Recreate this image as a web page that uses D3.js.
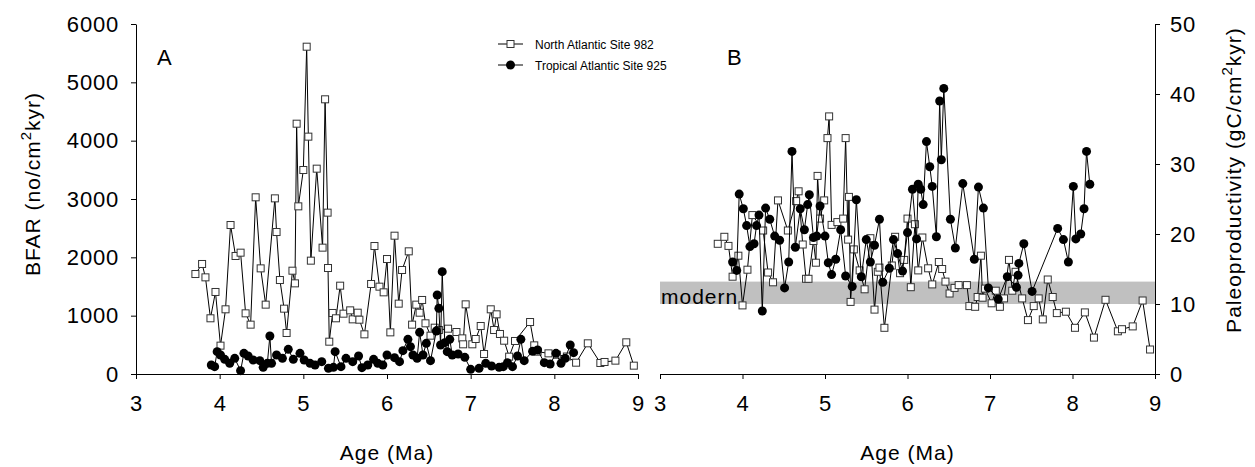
<!DOCTYPE html>
<html>
<head>
<meta charset="utf-8">
<script src="https://cdn.jsdelivr.net/npm/d3@7"></script>
<style>
	body { margin: 0; background: #fff; }
	svg { display: block; font-family: 'Liberation Sans', Arial, sans-serif; }
</style>
</head>
<body>
<script>
// tick values
const ageTicks = [3, 4, 5, 6, 7, 8, 9]
const bfarTicks = [0, 1000, 2000, 3000, 4000, 5000, 6000]
const prodTicks = [0, 10, 20, 30, 40, 50]
const modernBand = [10, 13.2]

// panel A : BFAR, North Atlantic Site 982 (squares)
const ageA982 = [3.71, 3.79, 3.83, 3.89, 3.95, 4.01, 4.07, 4.13, 4.19, 4.25, 4.31, 4.37, 4.43, 4.49, 4.55, 4.66, 4.68, 4.72, 4.77, 4.80,
	4.87, 4.90, 4.92, 4.94, 5.00, 5.04, 5.06, 5.09, 5.16, 5.23, 5.26, 5.29, 5.295, 5.31, 5.35, 5.39, 5.44, 5.48, 5.56, 5.59,
	5.65, 5.67, 5.73, 5.81, 5.85, 5.91, 5.96, 6.00, 6.04, 6.09, 6.14, 6.18, 6.26, 6.30, 6.35, 6.39, 6.42, 6.46, 6.52, 6.57,
	6.62, 6.73, 6.83, 6.90, 6.91, 6.94, 7.02, 7.06, 7.12, 7.16, 7.24, 7.28, 7.31, 7.35, 7.40, 7.46, 7.53, 7.71, 7.76, 7.80,
	7.93, 8.03, 8.15, 8.26, 8.40, 8.55, 8.60, 8.73, 8.86, 8.95]
const bfarA982 = [1714, 1886, 1657, 955, 1406, 486, 1109, 2554, 2023, 2080, 1040, 846, 3029, 1811, 1189, 3011, 2434, 1611, 1120, 703,
	1771, 1554, 4291, 2874, 3497, 5611, 4069, 1943, 3520, 2166, 4709, 2766, 1817, 554, 1046, 955, 1514, 1034, 1091, 937,
	1051, 931, 680, 1543, 2194, 1497, 1400, 1971, 714, 2371, 1206, 1783, 2103, 846, 1189, 1051, 1269, 869, 657, 794,
	754, 777, 720, 611, 509, 1194, 509, 600, 823, 343, 1109, 754, 1023, 686, 571, 297, 566, 891, 491, 383,
	354, 330, 300, 194, 526, 189, 206, 229, 543, 143]

// panel A : BFAR, Tropical Atlantic Site 925 (circles)
const ageA925 = [3.90, 3.94, 3.97, 4.01, 4.06, 4.12, 4.18, 4.25, 4.29, 4.34, 4.40, 4.48, 4.52, 4.57, 4.60, 4.62, 4.68, 4.75, 4.82, 4.88,
	4.96, 5.01, 5.08, 5.14, 5.22, 5.30, 5.36, 5.38, 5.45, 5.51, 5.59, 5.66, 5.70, 5.77, 5.84, 5.89, 5.95, 6.00, 6.09, 6.15,
	6.19, 6.25, 6.28, 6.31, 6.36, 6.39, 6.43, 6.47, 6.52, 6.59, 6.60, 6.62, 6.64, 6.66, 6.69, 6.72, 6.75, 6.78, 6.85, 6.93,
	7.00, 7.10, 7.18, 7.25, 7.34, 7.39, 7.44, 7.50, 7.56, 7.60, 7.64, 7.74, 7.80, 7.88, 7.95, 8.02, 8.08, 8.13, 8.19, 8.23]
const bfarA925 = [154, 126, 383, 326, 251, 183, 269, 57, 354, 309, 240, 229, 114, 183, 651, 183, 326, 269, 423, 251,
	354, 240, 183, 154, 211, 97, 114, 383, 126, 269, 211, 309, 109, 154, 251, 183, 154, 326, 280, 211,
	400, 594, 469, 326, 269, 714, 326, 526, 229, 737, 1354, 1126, 497, 1754, 537, 383, 594, 326, 343, 286,
	80, 97, 183, 137, 114, 126, 194, 126, 309, 594, 229, 389, 411, 194, 171, 354, 183, 269, 497, 366]

// panel B : paleoproductivity, Site 982 (squares)
const ageB982 = [3.70, 3.78, 3.83, 3.88, 3.95, 4.00, 4.06, 4.12, 4.25, 4.31, 4.37, 4.43, 4.55, 4.65, 4.68, 4.73, 4.77, 4.80, 4.86, 4.89,
	4.91, 4.94, 4.99, 5.03, 5.05, 5.08, 5.15, 5.22, 5.25, 5.28, 5.29, 5.31, 5.35, 5.42, 5.48, 5.55, 5.60, 5.64, 5.66, 5.72,
	5.81, 5.85, 5.91, 5.96, 6.00, 6.04, 6.09, 6.13, 6.18, 6.25, 6.30, 6.38, 6.42, 6.46, 6.51, 6.57, 6.62, 6.72, 6.75, 6.82,
	6.85, 6.89, 6.91, 6.94, 7.02, 7.07, 7.12, 7.17, 7.23, 7.27, 7.31, 7.39, 7.46, 7.53, 7.59, 7.64, 7.70, 7.76, 7.81, 7.92,
	8.03, 8.15, 8.26, 8.40, 8.55, 8.60, 8.73, 8.85, 8.94]
const prodB982 = [18.6, 19.6, 18.3, 13.9, 16.9, 9.8, 14.9, 22.7, 20.5, 14.5, 13.1, 24.8, 20.5, 24.7, 26.1, 18.5, 13.6, 13.6, 19.0, 15.9,
	28.3, 22.2, 24.8, 33.7, 36.8, 21.3, 21.7, 22.2, 33.7, 19.2, 25.3, 10.3, 17.8, 14.8, 12.1, 19.4, 9.2, 14.6, 15.2, 6.6,
	15.5, 19.6, 14.4, 16.3, 22.2, 12.4, 21.4, 14.8, 19.5, 15.1, 12.8, 16.0, 15.0, 13.2, 11.5, 12.3, 12.7, 12.7, 9.7, 9.6,
	11.0, 16.9, 10.9, 12.2, 10.1, 11.9, 9.6, 10.8, 16.3, 11.9, 14.6, 10.8, 7.7, 9.7, 10.8, 7.8, 13.5, 11.0, 8.7, 8.9,
	6.6, 8.8, 5.2, 10.6, 6.1, 6.4, 6.8, 10.5, 3.5]

// panel B : paleoproductivity, Site 925 (circles)
const ageB925 = [3.88, 3.93, 3.96, 4.01, 4.05, 4.09, 4.14, 4.17, 4.20, 4.24, 4.28, 4.33, 4.39, 4.45, 4.51, 4.56, 4.60, 4.64, 4.70, 4.75,
	4.79, 4.81, 4.86, 4.90, 4.94, 5.00, 5.04, 5.08, 5.13, 5.19, 5.25, 5.33, 5.38, 5.44, 5.50, 5.55, 5.60, 5.66, 5.70, 5.78,
	5.83, 5.88, 5.94, 6.00, 6.06, 6.11, 6.13, 6.16, 6.19, 6.23, 6.27, 6.30, 6.35, 6.39, 6.41, 6.44, 6.52, 6.58, 6.67, 6.81,
	6.86, 6.92, 6.98, 7.10, 7.21, 7.32, 7.34, 7.35, 7.41, 7.51, 7.82, 7.89, 7.95, 8.01, 8.04, 8.10, 8.14, 8.17, 8.21]
const prodB925 = [16.0, 14.8, 25.7, 23.6, 21.2, 18.2, 18.6, 21.2, 22.7, 9.0, 23.7, 22.1, 19.7, 19.1, 12.3, 16.0, 31.8, 18.1, 23.6, 20.6,
	24.2, 25.6, 19.5, 19.7, 24.0, 19.7, 15.9, 14.2, 16.4, 20.6, 14.0, 12.5, 24.9, 13.9, 19.2, 16.0, 18.4, 22.1, 13.1, 15.1,
	19.2, 17.2, 14.7, 20.2, 26.4, 19.3, 27.1, 26.4, 24.2, 33.2, 29.6, 26.8, 19.6, 39.0, 30.6, 40.8, 22.1, 18.0, 27.2, 16.4,
	26.7, 23.7, 12.3, 10.7, 13.9, 12.4, 14.1, 15.8, 18.6, 11.8, 20.8, 19.2, 16.0, 26.8, 19.3, 20.0, 23.6, 31.8, 27.1]

const width = 1255
const height = 467
const plotTop = 24
const plotBottom = 374
const panelA = { left: 136, right: 638 }
const panelB = { left: 660, right: 1155 }

const svg = d3.select('body').append('svg').attr('width', width).attr('height', height)

const xA = d3.scaleLinear().domain([3, 9]).range([panelA.left, panelA.right])
const xB = d3.scaleLinear().domain([3, 9]).range([panelB.left, panelB.right])
const yA = d3.scaleLinear().domain([0, 6000]).range([plotBottom, plotTop])
const yB = d3.scaleLinear().domain([0, 50]).range([plotBottom, plotTop])
const fmt = d3.format('d')

function styleAxis(g) {
	g.selectAll('path,line').attr('stroke', '#000').attr('stroke-width', 1)
	g.selectAll('text').attr('fill', '#000').style('font-size', '22px').style('letter-spacing', '0.8px')
		.style('font-family', "'Liberation Sans', Arial, sans-serif")
}

// modern band in panel B
svg.append('rect')
	.attr('x', panelB.left).attr('width', panelB.right - panelB.left)
	.attr('y', yB(modernBand[1])).attr('height', yB(modernBand[0]) - yB(modernBand[1]))
	.attr('fill', '#c0c0c0')
svg.append('text').attr('x', panelB.left + 1).attr('y', 304)
	.style('font-size', '21px').style('letter-spacing', '1px').text('modern')

// axes
svg.append('g').attr('transform', `translate(0,${plotBottom})`)
	.call(d3.axisBottom(xA).tickValues(ageTicks).tickFormat(fmt).tickSize(5).tickSizeOuter(0).tickPadding(16)).call(styleAxis)
svg.append('g').attr('transform', `translate(0,${plotBottom})`)
	.call(d3.axisBottom(xB).tickValues(ageTicks).tickFormat(fmt).tickSize(5).tickSizeOuter(0).tickPadding(16)).call(styleAxis)
svg.append('g').attr('transform', `translate(${panelA.left},0)`)
	.call(d3.axisLeft(yA).tickValues(bfarTicks).tickFormat(fmt).tickSize(5).tickSizeOuter(0).tickPadding(12)).call(styleAxis)
svg.append('g').attr('transform', `translate(${panelB.right},0)`)
	.call(d3.axisRight(yB).tickValues(prodTicks).tickFormat(fmt).tickSize(5).tickSizeOuter(0).tickPadding(10)).call(styleAxis)
svg.selectAll('.domain').attr('fill', 'none')

// axis titles
svg.append('text').attr('text-anchor', 'middle').attr('x', (panelA.left + panelA.right) / 2).attr('y', 460)
	.style('font-size', '21px').style('letter-spacing', '1px').text('Age (Ma)')
svg.append('text').attr('text-anchor', 'middle').attr('x', (panelB.left + panelB.right) / 2).attr('y', 460)
	.style('font-size', '21px').style('letter-spacing', '1px').text('Age (Ma)')

const lt = svg.append('text').attr('text-anchor', 'middle')
	.attr('transform', 'translate(40,184) rotate(-90)')
	.style('font-size', '21px').style('letter-spacing', '1px')
lt.append('tspan').text('BFAR (no/cm')
lt.append('tspan').attr('dy', -9).style('font-size', '15px').text('2')
lt.append('tspan').attr('dy', 9).text('kyr)')

const rt = svg.append('text').attr('text-anchor', 'middle')
	.attr('transform', 'translate(1241,180) rotate(-90)')
	.style('font-size', '21px').style('letter-spacing', '1px')
rt.append('tspan').text('Paleoproductivity (gC/cm')
rt.append('tspan').attr('dy', -9).style('font-size', '15px').text('2')
rt.append('tspan').attr('dy', 9).text('kyr)')

svg.append('text').attr('x', 157).attr('y', 65).style('font-size', '22px').text('A')
svg.append('text').attr('x', 727).attr('y', 65).style('font-size', '22px').text('B')

// series
function drawSeries(ages, vals, x, y, kind) {
	const pts = ages.map((a, i) => [a, vals[i]])
	const line = d3.line().x(d => x(d[0])).y(d => y(d[1]))
	svg.append('path').datum(pts).attr('d', line)
		.attr('fill', 'none').attr('stroke', '#000').attr('stroke-width', 1)
	const g = svg.append('g')
	if (kind === 'square') {
		g.selectAll('rect').data(pts).join('rect')
			.attr('x', d => x(d[0]) - 3.5).attr('y', d => y(d[1]) - 3.5)
			.attr('width', 7).attr('height', 7)
			.attr('fill', '#fff').attr('stroke', '#333').attr('stroke-width', 1)
	} else {
		g.selectAll('circle').data(pts).join('circle')
			.attr('cx', d => x(d[0])).attr('cy', d => y(d[1])).attr('r', 4.5)
			.attr('fill', '#000')
	}
}

drawSeries(ageA982, bfarA982, xA, yA, 'square')
drawSeries(ageA925, bfarA925, xA, yA, 'circle')
drawSeries(ageB982, prodB982, xB, yB, 'square')
drawSeries(ageB925, prodB925, xB, yB, 'circle')

// legend
const legend = svg.append('g').attr('transform', 'translate(498,44)')
const legendItems = ['North Atlantic Site 982', 'Tropical Atlantic Site 925']
legendItems.forEach((name, i) => {
	const row = legend.append('g').attr('transform', `translate(0,${i * 21})`)
	row.append('line').attr('x1', 0).attr('x2', 25).attr('stroke', '#000')
	if (i === 0) {
		row.append('rect').attr('x', 9).attr('y', -3.5).attr('width', 7).attr('height', 7)
			.attr('fill', '#fff').attr('stroke', '#333')
	} else {
		row.append('circle').attr('cx', 12.5).attr('r', 4.5).attr('fill', '#000')
	}
	row.append('text').attr('x', 37).attr('y', 4.5).style('font-size', '12px').text(name)
})
</script>
</body>
</html>
